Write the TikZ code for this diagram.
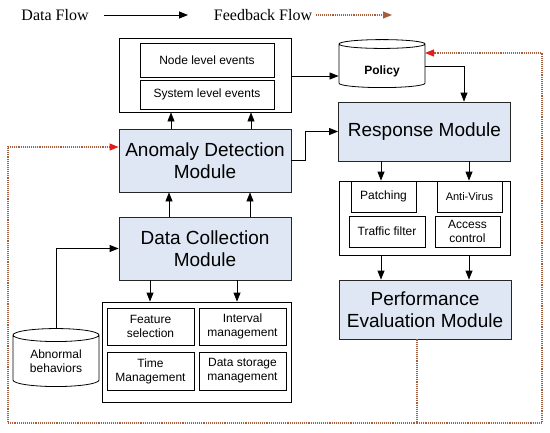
\documentclass[tikz,border=0pt]{standalone}
\usepackage{fontspec}
\setmainfont{Liberation Serif}
\setsansfont{Liberation Sans}
\usetikzlibrary{arrows.meta, positioning, shapes.geometric, calc}
\definecolor{modfill}{RGB}{222,231,243}
\definecolor{fbline}{RGB}{165,95,60}
\definecolor{fbtip}{RGB}{225,30,25}
\tikzset{
  x=1pt, y=-1pt,
  >={Triangle[length=9pt, width=7pt]},
  flow/.style={->, line width=0.8pt},
  feedback/.style={fbline, densely dotted, line width=1.1pt},
}

\begin{document}
\begin{tikzpicture}[module/.style = {draw=black!85, fill=modfill,
      line width=0.8pt, minimum width=172pt, minimum height=63pt,
      inner sep=0pt, align=center, font=\sffamily\fontsize{19}{22}\selectfont},
    holder/.style = {draw, line width=0.8pt, inner sep=0pt},
    item/.style = {draw, line width=0.8pt, inner sep=0pt, align=center,
      font=\sffamily\fontsize{12}{14}\selectfont},
    store/.style = {draw, cylinder, shape border rotate=90, aspect=0.25,
      line width=0.8pt, inner sep=0pt, align=center,
      font=\sffamily\fontsize{12}{14}\selectfont}]

      \useasboundingbox (0,0) rectangle (550,432);

      % --- Legend ---
      \node[font=\fontsize{16}{18}\selectfont] (dflow) at (55,15) {Data Flow};
      \node[font=\fontsize{16}{18}\selectfont] (fflow) at (263,15) {Feedback Flow};
      \coordinate (dend) at (188,15);
      \coordinate (fend) at (392,15);

      % --- Nodes ---
      \node[holder, minimum width=172pt, minimum height=74pt] (events) at (205,75) {};
      \node[item, minimum width=134pt, minimum height=34pt] (nodeev) at (207,60) {Node level events};
      \node[item, minimum width=134pt, minimum height=29pt] (sysev) at (207,94.5) {System level events};

      \node[store, minimum width=86pt, minimum height=48pt, text height=20pt, text depth=3pt,
        font=\sffamily\bfseries\fontsize{12}{14}\selectfont] (policy) at (382,66) {Policy};

      \node[module] (anomaly) at (205,160.5) {Anomaly Detection\\Module};
      \node[module] (collect) at (205,248.5) {Data Collection\\Module};

      \node[store, minimum width=86pt, minimum height=58pt] (abnormal) at (56,361) {Abnormal\\behaviors};

      \node[holder, minimum width=189pt, minimum height=100pt] (dataopt) at (196.5,352) {};
      \node[item, minimum width=87pt, minimum height=37pt] (feature) at (150.5,326.5) {Feature\\selection};
      \node[item, minimum width=87pt, minimum height=37pt] (interval) at (242.5,326.5) {Interval\\management};
      \node[item, minimum width=87pt, minimum height=38pt] (timemg) at (150.5,371) {Time\\Management};
      \node[item, minimum width=87pt, minimum height=38pt] (storage) at (242.5,371) {Data storage\\management};

      \node[module, minimum height=59pt] (response) at (424.5,131.5) {Response Module};
      \node[holder, minimum width=171pt, minimum height=74pt] (respopt) at (424.5,218) {};
      \node[item, minimum width=65pt, minimum height=31pt] (patch) at (383.5,196.5) {Patching};
      \node[item, minimum width=65pt, minimum height=31pt,
        font=\sffamily\fontsize{11}{13}\selectfont] (antivirus) at (469.5,196.5) {Anti-Virus};
      \node[item, minimum width=76pt, minimum height=31pt] (traffic) at (387,231.5) {Traffic filter};
      \node[item, minimum width=65pt, minimum height=31pt] (access) at (467.5,231.5) {Access\\control};

      \node[module, minimum height=59pt] (perf) at (425,309.5) {Performance\\Evaluation Module};

      % --- Data flow ---
      \draw[flow] (dflow.east) ++(12,0) -- (dend);
      \path[flow]
      ([xshift=-34pt]anomaly.north) edge ([xshift=-34pt]events.south)
      ([xshift=46pt]anomaly.north) edge ([xshift=46pt]events.south)
      ([xshift=-36pt]collect.north) edge ([xshift=-36pt]anomaly.south)
      ([xshift=45pt]collect.north) edge ([xshift=45pt]anomaly.south)
      ([xshift=-55pt]collect.south) edge ([xshift=-55pt]dataopt.north -| collect.south)
      ([xshift=32pt]collect.south) edge ([xshift=32pt]dataopt.north -| collect.south)
      ([xshift=-43.5pt]response.south) edge ([xshift=-43.5pt]respopt.north)
      ([xshift=44.5pt]response.south) edge ([xshift=44.5pt]respopt.north)
      ([xshift=-43.5pt]respopt.south) edge ([xshift=-44pt]perf.north)
      ([xshift=44.5pt]respopt.south) edge ([xshift=44pt]perf.north);
      \draw[flow] ([yshift=-1pt]events.east) -- ([yshift=-1pt]events.east -| policy.west);
      \draw[flow] (policy.east) -| ([xshift=39.5pt]response.north);
      \draw[flow] (anomaly.east) -- ++(14,0) |- (response.west);
      \draw[flow] (abnormal.north) |- (collect.west);

      % --- Feedback flow ---
      \coordinate (fbfoot) at (417,423);
      \coordinate (fbleft) at (8,423);
      \coordinate (fbright) at (542,423);
      \coordinate (fbtop) at (425,53);
      \draw[feedback, -{Triangle[length=9pt, width=7pt, fill=fbline]}] (fflow.east) -- (fend);
      \draw[feedback, -{Triangle[length=9pt, width=7pt, color=fbtip, fill=fbtip]}]
        ([xshift=-8pt]perf.south) -- (fbfoot) -- (fbleft) |- ([yshift=13.5pt]anomaly.west);
      \draw[feedback, -{Triangle[length=9pt, width=7pt, color=fbtip, fill=fbtip]}]
        (fbfoot) -- (fbright) |- (fbtop);

    \end{tikzpicture}
\end{document}
